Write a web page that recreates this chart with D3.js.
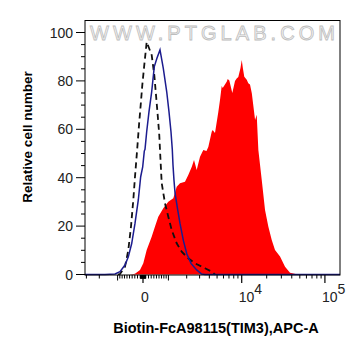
<!DOCTYPE html>
<html>
<head>
<meta charset="utf-8">
<script src="https://cdn.jsdelivr.net/npm/d3@7"></script>
<style>
  html,body{margin:0;padding:0;background:#fff;}
  svg{display:block;font-family:"Liberation Sans",Arial,sans-serif;}
</style>
</head>
<body>
<svg id="chart" width="361" height="356"></svg>
<script>
// histogram series, x = APC-A intensity, y = % of max
const stained = [[-482,0],[-293,0.3],[-109,1.9],[11,4.6],[134,10.1],[318,15.6],[444,19.8],[572,23.9],[776,27.4],[995,30.1],[1233,31.5],[1408,36.3],[1589,37.7],[1890,38.3],[2108,41.1],[2360,44.5],[2528,47.3],[2746,43.2],[3038,48.7],[3352,51.4],[3680,51.0],[3883,52.7],[4286,59.0],[4408,59.7],[4710,58.5],[5180,67.1],[5434,72.1],[5703,77.9],[5870,77.1],[6570,79.7],[6757,80.8],[7070,80.2],[7690,75.0],[8290,80.0],[8691,81.0],[9090,81.6],[9666,85.3],[10010,88.6],[10354,85.0],[10740,81.7],[11498,80.5],[12010,79.0],[12590,78.5],[13240,74.9],[14500,63.8],[15170,66.0],[15880,51.4],[17440,39.0],[19100,26.7],[20920,19.8],[23000,14.3],[25180,10.1],[28930,7.4],[33220,3.2],[38130,0.7],[45860,0.1],[57680,0]];
const control = [[-3129,0],[-2300,0],[-1648,0],[-1371,0.1],[-1120,0.2],[-892,1.2],[-681,3.9],[-548,7.3],[-417,12.8],[-293,21.1],[-171,30.8],[-84,40.4],[-11,44.5],[47,51.0],[73,51.7],[134,59.0],[219,67.3],[318,75.5],[417,85.9],[521,89.5],[640,92.8],[776,85.2],[924,75.5],[1026,67.3],[1120,59.0],[1183,51.7],[1218,45.2],[1267,39.0],[1321,33.6],[1462,26.7],[1589,21.1],[1790,14.0],[2010,8.5],[2300,4.6],[2746,1.9],[3186,0.2],[3525,0],[151700,0]];
const blank = [[-982,0],[-892,0.2],[-681,3.2],[-548,10.1],[-444,19.8],[-356,30.8],[-293,40.4],[-208,52.3],[-145,61.8],[-84,70.0],[-25,78.3],[47,86.6],[134,96.1],[219,93.6],[318,90.7],[417,82.4],[482,74.2],[548,65.9],[611,57.6],[640,51.4],[710,37.7],[849,29.4],[995,23.9],[1155,18.4],[1408,12.9],[1688,9.4],[2108,6.7],[2615,4.6],[3525,2.6],[4286,1.2],[4710,0]];

const yTicks = [0,20,40,60,80,100];
const xLabels = [{v:0,base:'0',exp:''},{v:1e4,base:'10',exp:'4'},{v:1e5,base:'10',exp:'5'}];
const xMinor = [-3000,-2000,-900,-800,-700,-600,-500,-400,-300,-200,-100,-90,-80,-70,-60,-50,-40,-30,-20,-10,10,20,30,40,50,60,70,80,90,100,200,300,400,500,600,700,800,900,2000,3000,4000,5000,6000,7000,8000,9000,20000,30000,40000,50000,60000,70000,80000,90000];
const xMid = [-1000,1000];

const cof = 1314;
const T = v => Math.asinh(v/cof);
const mLeft = 85, mRight = 340, mTop = 20.5, mBottom = 275;

const xs = d3.scaleLinear().domain([T(-3129),T(151700)]).range([mLeft,mRight]);
const x = v => xs(T(v));
const y = d3.scaleLinear().domain([0,100]).range([274.5,32.5]);

const svg = d3.select('#chart');

// watermark
svg.append('text')
  .attr('x',90).attr('y',40)
  .attr('textLength',245).attr('lengthAdjust','spacing')
  .attr('font-size',20)
  .attr('fill','#f3f3f3').attr('stroke','#bdbdbd').attr('stroke-width',0.8)
  .text('WWW.PTGLAB.COM');

const area = d3.area().x(d=>x(d[0])).y0(y(0)).y1(d=>y(d[1]));
const line = d3.line().x(d=>x(d[0])).y(d=>y(d[1]));

svg.append('path').datum(stained)
  .attr('d',area).attr('fill','#ff0000').attr('stroke','none');

svg.append('path').datum(blank)
  .attr('d',line).attr('fill','none')
  .attr('stroke','#111').attr('stroke-width',1.8).attr('stroke-dasharray','6,4');

svg.append('path').datum(control)
  .attr('d',line).attr('fill','none')
  .attr('stroke','#1c1c8f').attr('stroke-width',1.5);

// frame
svg.append('rect')
  .attr('x',mLeft).attr('y',mTop).attr('width',mRight-mLeft).attr('height',mBottom-mTop)
  .attr('fill','none').attr('stroke','#000').attr('stroke-width',1);

// y axis
const yg = svg.append('g');
yg.selectAll('line').data(d3.range(0,101,5)).join('line')
  .attr('x1',mLeft).attr('x2',d=>d%20===0?mLeft-9:mLeft-4)
  .attr('y1',d=>y(d)).attr('y2',d=>y(d))
  .attr('stroke','#000').attr('stroke-width',1);
yg.selectAll('text').data(yTicks).join('text')
  .attr('x',73).attr('y',d=>y(d)+5)
  .attr('text-anchor','end').attr('font-size',14).attr('fill','#222')
  .text(d=>d);

// x axis
const xg = svg.append('g');
xg.selectAll('line.mn').data(xMinor).join('line').attr('class','mn')
  .attr('x1',d=>x(d)).attr('x2',d=>x(d))
  .attr('y1',mBottom).attr('y2',mBottom+3.5)
  .attr('stroke','#000').attr('stroke-width',1);
xg.selectAll('line.md').data(xMid).join('line').attr('class','md')
  .attr('x1',d=>x(d)).attr('x2',d=>x(d))
  .attr('y1',mBottom).attr('y2',mBottom+5.5)
  .attr('stroke','#000').attr('stroke-width',1);
xg.selectAll('line.mj').data(xLabels).join('line').attr('class','mj')
  .attr('x1',d=>x(d.v)).attr('x2',d=>x(d.v))
  .attr('y1',mBottom).attr('y2',mBottom+8)
  .attr('stroke','#000').attr('stroke-width',1.2);
const lab = xg.selectAll('text').data(xLabels).join('text')
  .attr('x',d=>d.exp?x(d.v)-3:x(d.v)+2)
  .attr('y',302)
  .attr('text-anchor',d=>d.exp?'start':'middle')
  .attr('font-size',14).attr('fill','#222');
lab.append('tspan').text(d=>d.base);
lab.filter(d=>d.exp).append('tspan').attr('dy',-8).text(d=>d.exp);

// titles
svg.append('text')
  .attr('x',216).attr('y',333)
  .attr('text-anchor','middle').attr('font-size',14.5).attr('font-weight','bold')
  .text('Biotin-FcA98115(TIM3),APC-A');
svg.append('text')
  .attr('transform','translate(32,137) rotate(-90)')
  .attr('text-anchor','middle').attr('font-size',13.5).attr('font-weight','bold')
  .text('Relative cell number');
</script>
</body>
</html>
